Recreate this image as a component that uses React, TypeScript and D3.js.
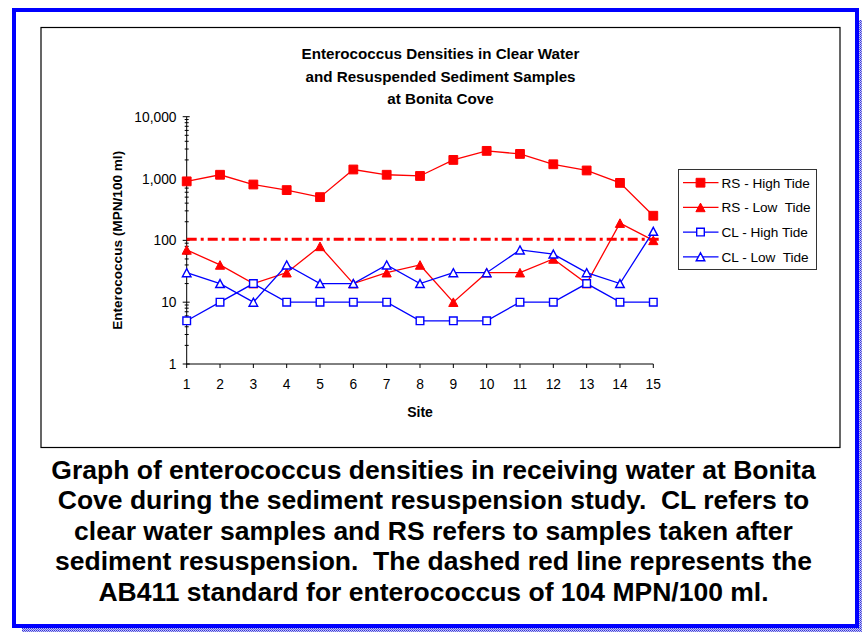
import React from "react";
import * as d3 from "d3";

// Sites sampled along the cove
const sites = [1, 2, 3, 4, 5, 6, 7, 8, 9, 10, 11, 12, 13, 14, 15];

// Enterococcus densities (MPN/100 ml)
const rsHighTide = [900, 1150, 800, 650, 500, 1400, 1150, 1100, 2000, 2800, 2500, 1700, 1350, 850, 250];
const rsLowTide = [70, 40, 20, 30, 80, 20, 30, 40, 10, 30, 30, 50, 20, 190, 100];
const clHighTide = [5, 10, 20, 10, 10, 10, 10, 5, 5, 5, 10, 10, 20, 10, 10];
const clLowTide = [30, 20, 10, 40, 20, 20, 40, 20, 30, 30, 70, 60, 30, 20, 140];

// AB411 standard for enterococcus
const ab411Standard = 104;

const yTickValues = [1, 10, 100, 1000, 10000];

const titleLines = [
  "Enterococcus Densities in Clear Water",
  "and Resuspended Sediment Samples",
  "at Bonita Cove",
];

const captionLines = [
  "Graph of enterococcus densities in receiving water at Bonita",
  "Cove during the sediment resuspension study.  CL refers to",
  "clear water samples and RS refers to samples taken after",
  "sediment resuspension.  The dashed red line represents the",
  "AB411 standard for enterococcus of 104 MPN/100 ml.",
];

type Marker = "filledSquare" | "filledTriangle" | "openSquare" | "openTriangle";

const seriesList: { name: string; values: number[]; color: string; marker: Marker }[] = [
  { name: "RS - High Tide", values: rsHighTide, color: "#ff0000", marker: "filledSquare" },
  { name: "RS - Low  Tide", values: rsLowTide, color: "#ff0000", marker: "filledTriangle" },
  { name: "CL - High Tide", values: clHighTide, color: "#0000ff", marker: "openSquare" },
  { name: "CL - Low  Tide", values: clLowTide, color: "#0000ff", marker: "openTriangle" },
];

const FONT = "'Liberation Sans', Arial, Helvetica, sans-serif";

function markerPath(kind: Marker, cx: number, cy: number): string {
  const p = d3.path();
  if (kind === "filledSquare") {
    const h = 4.4;
    p.rect(cx - h, cy - h, 2 * h, 2 * h);
  } else if (kind === "openSquare") {
    const h = 3.8;
    p.rect(cx - h, cy - h, 2 * h, 2 * h);
  } else {
    const w = kind === "filledTriangle" ? 4.6 : 4.3;
    const hh = kind === "filledTriangle" ? 4.3 : 4.0;
    p.moveTo(cx, cy - hh);
    p.lineTo(cx + w, cy + hh);
    p.lineTo(cx - w, cy + hh);
    p.closePath();
  }
  return p.toString();
}

function MarkerShape({ kind, cx, cy, color }: { kind: Marker; cx: number; cy: number; color: string }) {
  const filled = kind === "filledSquare" || kind === "filledTriangle";
  return (
    <path
      d={markerPath(kind, cx, cy)}
      fill={filled ? color : "#ffffff"}
      stroke={color}
      strokeWidth={filled ? 1 : 1.4}
    />
  );
}

export default function App() {
  const width = 862;
  const height = 632;

  const x = d3.scaleLinear().domain([1, 15]).range([186.7, 653.3]);
  const y = d3.scaleLog().domain([1, 10000]).range([364, 116.7]);

  const line = d3
    .line<number>()
    .x((_, i) => x(sites[i]))
    .y((v) => y(v));

  const minorTicks: number[] = [];
  for (let decade = 1; decade < 10000; decade *= 10) {
    for (let m = 2; m <= 9; m++) minorTicks.push(decade * m);
  }

  const fmt = d3.format(",");
  const axisX = x(1);
  const axisY = y(1);

  const legendX = 678.5;
  const legendY = 169.5;
  const legendRow = 24.7;

  return (
    <div style={{ position: "absolute", left: 0, top: 0, width, height, background: "#ffffff" }}>
      <svg width={width} height={height} style={{ display: "block" }} fontFamily={FONT}>
        <defs>
          <pattern id="stipple" width="2" height="2" patternUnits="userSpaceOnUse">
            <rect width="2" height="2" fill="#c8c8f0" />
            <rect width="1" height="1" fill="#3030e0" />
            <rect x="1" y="1" width="1" height="1" fill="#6060e8" />
          </pattern>
        </defs>
        <rect width={width} height={height} fill="#ffffff" />

        {/* page frame with stippled shadow */}
        <rect x={859} y={20} width={3} height={612} fill="url(#stipple)" />
        <rect x={22} y={628} width={840} height={4} fill="url(#stipple)" />
        <rect x={14} y={10} width={843} height={616} fill="none" stroke="#0000ff" strokeWidth={4} />

        {/* chart area frame */}
        <rect x={41} y={27.5} width={799} height={420} fill="none" stroke="#000000" strokeWidth={1.2} />

        {/* title */}
        {titleLines.map((t, i) => (
          <text
            key={t}
            x={440.5}
            y={59 + i * 22.5}
            textAnchor="middle"
            fontSize={15.2}
            fontWeight="bold"
            fill="#000000"
          >
            {t}
          </text>
        ))}

        {/* y axis */}
        <line x1={axisX} x2={axisX} y1={y(10000)} y2={axisY} stroke="#000000" strokeWidth={1} />
        {minorTicks.map((v) => (
          <line key={`m${v}`} x1={axisX - 2} x2={axisX + 2} y1={y(v)} y2={y(v)} stroke="#000000" strokeWidth={1} />
        ))}
        {yTickValues.map((v) => (
          <g key={`y${v}`}>
            <line x1={axisX - 4} x2={axisX + 3} y1={y(v)} y2={y(v)} stroke="#000000" strokeWidth={1} />
            <text x={176.5} y={y(v) + 5} textAnchor="end" fontSize={13.8} fill="#000000">
              {fmt(v)}
            </text>
          </g>
        ))}
        <text
          transform={`translate(121.5, ${(y(1) + y(10000)) / 2}) rotate(-90)`}
          textAnchor="middle"
          fontSize={13.6}
          fontWeight="bold"
          fill="#000000"
        >
          Enterococcus (MPN/100 ml)
        </text>

        {/* x axis */}
        <line x1={axisX} x2={x(15)} y1={axisY} y2={axisY} stroke="#000000" strokeWidth={1} />
        {sites.map((s) => (
          <g key={`x${s}`}>
            <line x1={x(s)} x2={x(s)} y1={axisY} y2={axisY + 4} stroke="#000000" strokeWidth={1} />
            <text x={x(s)} y={388.5} textAnchor="middle" fontSize={13.8} fill="#000000">
              {s}
            </text>
          </g>
        ))}
        <text x={(x(1) + x(15)) / 2} y={417} textAnchor="middle" fontSize={14} fontWeight="bold" fill="#000000">
          Site
        </text>

        {/* AB411 standard */}
        <line
          x1={axisX}
          x2={x(15) + 9}
          y1={y(ab411Standard)}
          y2={y(ab411Standard)}
          stroke="#ff0000"
          strokeWidth={3}
          strokeDasharray="10 4 3 4"
        />

        {/* series */}
        {seriesList.map((s) => (
          <g key={s.name}>
            <path d={line(s.values) || ""} fill="none" stroke={s.color} strokeWidth={1.3} />
            {s.values.map((v, i) => (
              <MarkerShape key={i} kind={s.marker} cx={x(sites[i])} cy={y(v)} color={s.color} />
            ))}
          </g>
        ))}

        {/* legend */}
        <rect x={legendX} y={legendY} width={138} height={100} fill="#ffffff" stroke="#333333" strokeWidth={1} />
        {seriesList.map((s, i) => {
          const cy = legendY + 13.2 + i * legendRow;
          return (
            <g key={`lg${s.name}`}>
              <line x1={legendX + 4.5} x2={legendX + 40} y1={cy} y2={cy} stroke={s.color} strokeWidth={1.3} />
              <MarkerShape kind={s.marker} cx={legendX + 22} cy={cy} color={s.color} />
              <text x={legendX + 43} y={cy + 5} fontSize={13.6} fill="#000000" style={{ whiteSpace: "pre" }}>
                {s.name}
              </text>
            </g>
          );
        })}

        {/* caption */}
        {captionLines.map((t, i) => (
          <text
            key={t}
            x={433.5}
            y={478.5 + i * 30.6}
            textAnchor="middle"
            fontSize={26.5}
            fontWeight="bold"
            fill="#000000"
            style={{ whiteSpace: "pre" }}
          >
            {t}
          </text>
        ))}
      </svg>
    </div>
  );
}
